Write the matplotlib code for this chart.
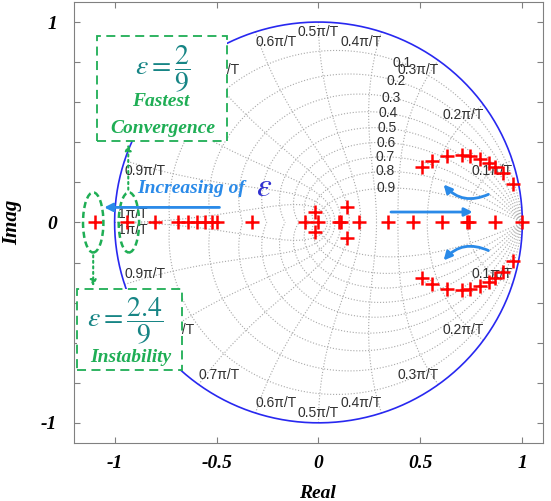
import numpy as np
import matplotlib.pyplot as plt
from matplotlib.patches import Rectangle, Ellipse, FancyArrowPatch

plt.rcParams['mathtext.fontset'] = 'stix'

# poles
real_poles = [-1.095, -0.939, -0.80, -0.69, -0.64, -0.595, -0.555, -0.52, -0.497, -0.325,
              -0.065, 0.0, 0.10, 0.112, 0.20, 0.342, 0.464, 0.606, 0.728, 0.738, 0.866, 1.0]
cplx_re = [-0.016, 0.139, 0.507, 0.559, 0.632, 0.706, 0.744, 0.793, 0.834, 0.866, 0.907, 0.956]
cplx_im = [0.05, 0.078, 0.279, 0.308, 0.333, 0.338, 0.333, 0.317, 0.295, 0.277, 0.248, 0.192]

zetas = [0.1, 0.2, 0.3, 0.4, 0.5, 0.6, 0.7, 0.8, 0.9]
wn_k = [1, 2, 3, 4, 5, 6, 7, 8, 9, 10]   # wn*T = k*pi/10

xticks = [-1, -0.5, 0, 0.5, 1]
xticklabels = ['-1', '-0.5', '0', '0.5', '1']
yticks = np.round(np.linspace(-1, 1, 11), 1)
yticklabels = ['-1', '', '', '', '', '0', '', '', '', '', '1']

gc = '#a8a8a8'
lab_c = '#303030'
green = '#1fae55'
teal = '#178585'
blue = '#2a8ae8'
serif = 'Liberation Serif'

fig = plt.figure(figsize=(5.51, 5.01), dpi=100)
ax = fig.add_axes([0.134, 0.116, 0.851, 0.880])

# zgrid: damping spirals
phi = np.linspace(0, np.pi, 400)
for z in zetas:
    r = np.exp(-z / np.sqrt(1 - z * z) * phi)
    ax.plot(r * np.cos(phi), r * np.sin(phi), ls=':', color=gc, lw=0.8)
    ax.plot(r * np.cos(phi), -r * np.sin(phi), ls=':', color=gc, lw=0.8)
    w = 0.35 * np.pi
    p = w * np.sqrt(1 - z * z)
    rr = np.exp(-z * w)
    ax.text(rr * np.cos(p), rr * np.sin(p), '%g' % z, ha='center', va='center',
            fontsize=10, family='Liberation Sans', color=lab_c)

# zgrid: natural frequency curves
zz = np.linspace(0, 1, 200)
for k in wn_k:
    w = k * np.pi / 10
    r = np.exp(-zz * w)
    a = w * np.sqrt(1 - zz ** 2)
    ax.plot(r * np.cos(a), r * np.sin(a), ls=':', color=gc, lw=0.8)
    ax.plot(r * np.cos(a), -r * np.sin(a), ls=':', color=gc, lw=0.8)
    txt = '%gπ/T' % (k / 10)
    px, py = np.cos(w), np.sin(w)
    if k < 5:
        ha = 'right'
    elif k == 5:
        ha = 'center'
    else:
        ha = 'left'
    if k == 10:
        px = -0.985
        ax.text(px, 0.005, txt, ha='left', va='bottom', fontsize=10,
                family='Liberation Sans', color=lab_c)
        ax.text(px, -0.005, txt, ha='left', va='top', fontsize=10,
                family='Liberation Sans', color=lab_c)
    else:
        ax.text(px, py - 0.015, txt, ha=ha, va='top', fontsize=10,
                family='Liberation Sans', color=lab_c)
        ax.text(px, -py + 0.015, txt, ha=ha, va='bottom', fontsize=10,
                family='Liberation Sans', color=lab_c)

# unit circle
t = np.linspace(0, 2 * np.pi, 500)
ax.plot(np.cos(t), np.sin(t), color='#2828f0', lw=1.2)

# poles
ax.plot(real_poles, np.zeros(len(real_poles)), 'r+', ms=10, mew=1.8, zorder=4)
ax.plot(cplx_re, cplx_im, 'r+', ms=10, mew=1.8, zorder=4)
ax.plot(cplx_re, -np.array(cplx_im), 'r+', ms=10, mew=1.8, zorder=4)

# annotation boxes
ax.add_patch(Rectangle((-1.085, 0.408), 0.637, 0.522, facecolor='white', edgecolor=green,
                       ls=(0, (5, 3)), lw=1.3, zorder=5))
ax.add_patch(Rectangle((-1.183, -0.736), 0.515, 0.403, facecolor='white', edgecolor=green,
                       ls=(0, (5, 3)), lw=1.3, zorder=5))
ax.text(-0.766, 0.766, r'$\varepsilon=\dfrac{2}{9}$', ha='center', va='center', fontsize=20,
        color=teal, zorder=6)
ax.text(-0.776, 0.603, 'Fastest', ha='center', va='center', fontsize=14, family=serif,
        style='italic', weight='bold', color=green, zorder=6)
ax.text(-0.762, 0.470, 'Convergence', ha='center', va='center', fontsize=14, family=serif,
        style='italic', weight='bold', color=green, zorder=6)
ax.text(-0.95, -0.488, r'$\varepsilon=\dfrac{2.4}{9}$', ha='center', va='center', fontsize=20,
        color=teal, zorder=6)
ax.text(-0.923, -0.672, 'Instability', ha='center', va='center', fontsize=14, family=serif,
        style='italic', weight='bold', color=green, zorder=6)

# ellipses round the left poles
ax.add_patch(Ellipse((-1.105, 0), 0.10, 0.30, fill=False, edgecolor=green,
                     ls=(0, (2.5, 1.5)), lw=1.8, zorder=6))
ax.add_patch(Ellipse((-0.93, 0), 0.10, 0.30, fill=False, edgecolor=green,
                     ls=(0, (2.5, 1.5)), lw=1.8, zorder=6))
ax.add_patch(FancyArrowPatch((-0.933, 0.15), (-0.933, 0.405), arrowstyle='-|>',
                             mutation_scale=9, color=green, ls=':', lw=1.5, zorder=6))
ax.add_patch(FancyArrowPatch((-1.105, -0.15), (-1.105, -0.333), arrowstyle='-|>',
                             mutation_scale=9, color=green, ls=':', lw=1.5, zorder=6))

# blue arrows
ax.add_patch(FancyArrowPatch((-0.472, 0.075), (-1.065, 0.075), arrowstyle='-|>',
                             mutation_scale=12, color=blue, lw=2, zorder=6))
ax.add_patch(FancyArrowPatch((0.342, 0.052), (0.77, 0.052), arrowstyle='-|>',
                             mutation_scale=12, color=blue, lw=2, zorder=6))
ax.add_patch(FancyArrowPatch((0.846, 0.146), (0.605, 0.20), arrowstyle='-|>',
                             connectionstyle='arc3,rad=-0.4', mutation_scale=12,
                             color=blue, lw=2, zorder=6))
ax.add_patch(FancyArrowPatch((0.846, -0.146), (0.605, -0.20), arrowstyle='-|>',
                             connectionstyle='arc3,rad=0.4', mutation_scale=12,
                             color=blue, lw=2, zorder=6))
ax.text(-0.624, 0.169, 'Increasing of', ha='center', va='center', fontsize=14, family=serif,
        style='italic', weight='bold', color=blue, zorder=6)
ax.text(-0.266, 0.18, r'$\varepsilon$', ha='center', va='center', fontsize=24,
        color='#3030d0', zorder=6)

ax.set_xlim(-1.2, 1.1)
ax.set_ylim(-1.1, 1.1)
ax.set_xticks(xticks)
ax.set_xticklabels(xticklabels)
ax.set_yticks(yticks)
ax.set_yticklabels(yticklabels)
for lb in ax.get_xticklabels() + ax.get_yticklabels():
    lb.set_family(serif)
    lb.set_style('italic')
    lb.set_weight('bold')
    lb.set_fontsize(14)
ax.tick_params(direction='in', top=True, right=True, length=4, color='#808080')
ax.tick_params(axis='x', pad=9)
ax.tick_params(axis='y', pad=12)
for s in ax.spines.values():
    s.set_color('#808080')
ax.set_xlabel('Real', family=serif, style='italic', weight='bold', fontsize=14)
ax.set_ylabel('Imag', family=serif, style='italic', weight='bold', fontsize=15)
ax.xaxis.set_label_coords(0.52, -0.095)
ax.yaxis.set_label_coords(-0.11, 0.5)

fig.savefig('out.png', dpi=100)
